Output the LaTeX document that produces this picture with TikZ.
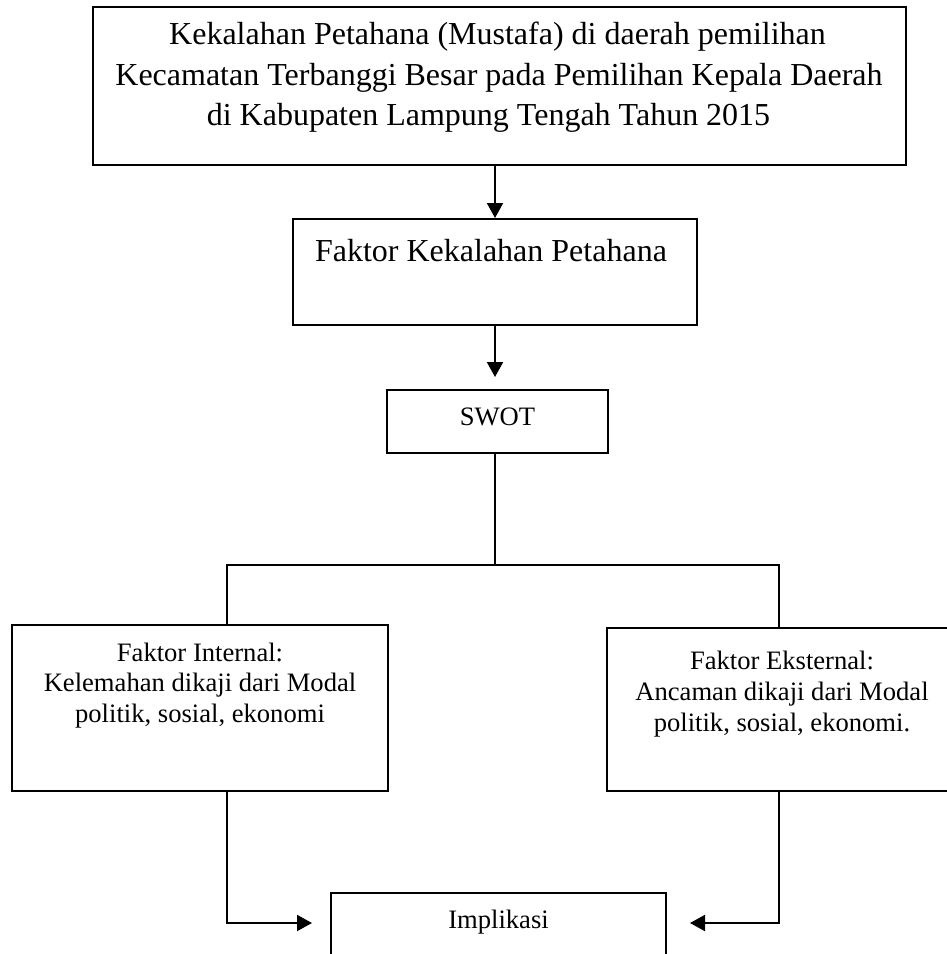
\documentclass[tikz,border=0pt]{standalone}
\usepackage{fontspec}
\setmainfont{Liberation Serif}
\usetikzlibrary{arrows.meta}
\tikzset{
  boxnode/.style={draw=black, line width=2pt, rectangle, inner sep=0pt, fill=white},
  bigtxt/.style={anchor=base, inner sep=0pt, font=\fontsize{32}{38}\selectfont},
  smalltxt/.style={anchor=base, inner sep=0pt, font=\fontsize{26.6}{31}\selectfont},
  conn/.style={line width=2pt, black},
  arr/.style={conn, -{Triangle[length=15pt,width=16pt]}}
}
\begin{document}
\begin{tikzpicture}[x=1pt, y=-1pt]
\useasboundingbox (0,0) rectangle (947,954);
\clip (0,0) rectangle (947,954);
\fill[white] (0,0) rectangle (947,954);
% boxes
\node[boxnode, minimum width=813pt, minimum height=158pt] (top) at (499.5,86) {};
\node[boxnode, minimum width=404pt, minimum height=106pt] (fkp) at (495,272) {};
\node[boxnode, minimum width=221pt, minimum height=63pt] (swot) at (497.5,421.5) {};
\node[boxnode, minimum width=376pt, minimum height=166pt] (internal) at (200,708) {};
\node[boxnode, minimum width=350pt, minimum height=163pt] (external) at (782,709.5) {};
\node[boxnode, minimum width=335pt, minimum height=107pt] (impl) at (498.5,946.5) {};
% texts
\node[bigtxt] (t1) at (497.5,44) {Kekalahan Petahana (Mustafa) di daerah pemilihan};
\node[bigtxt] (t2) at (499,85) {Kecamatan Terbanggi Besar pada Pemilihan Kepala Daerah};
\node[bigtxt] (t3) at (488.5,125) {di Kabupaten Lampung Tengah Tahun 2015};
\node[bigtxt] (t4) at (491,261) {Faktor Kekalahan Petahana};
\node[smalltxt] (t5) at (497.5,425) {SWOT};
\node[smalltxt] (t6) at (200,661) {Faktor Internal:};
\node[smalltxt] (t7) at (200,691) {Kelemahan dikaji dari Modal};
\node[smalltxt] (t8) at (200,722) {politik, sosial, ekonomi};
\node[smalltxt] (t9) at (782,669) {Faktor Eksternal:};
\node[smalltxt] (t10) at (782,700) {Ancaman dikaji dari Modal};
\node[smalltxt] (t11) at (782,731) {politik, sosial, ekonomi.};
\node[smalltxt] (t12) at (498.5,928) {Implikasi};
% junction coordinates
\coordinate (j) at (495,565);
\coordinate (jl) at (227,565);
\coordinate (jr) at (779,565);
\coordinate (al) at (227,923);
\coordinate (ar) at (779,923);
% connectors
\draw[arr] (top.south -| fkp.north) -- (fkp.north);
\draw[arr, shorten >=12pt] (fkp.south) -- (fkp.south |- swot.north);
\draw[conn] (swot.south -| j) -- (j);
\draw[conn] (jl |- internal.north) -- (jl) -- (jr) -- (jr |- external.north);
\draw[arr, shorten >=18pt] (jl |- internal.south) -- (al) -- (impl.west |- al);
\draw[arr, shorten >=23pt] (jr |- external.south) -- (ar) -- (impl.east |- ar);
\end{tikzpicture}
\end{document}
